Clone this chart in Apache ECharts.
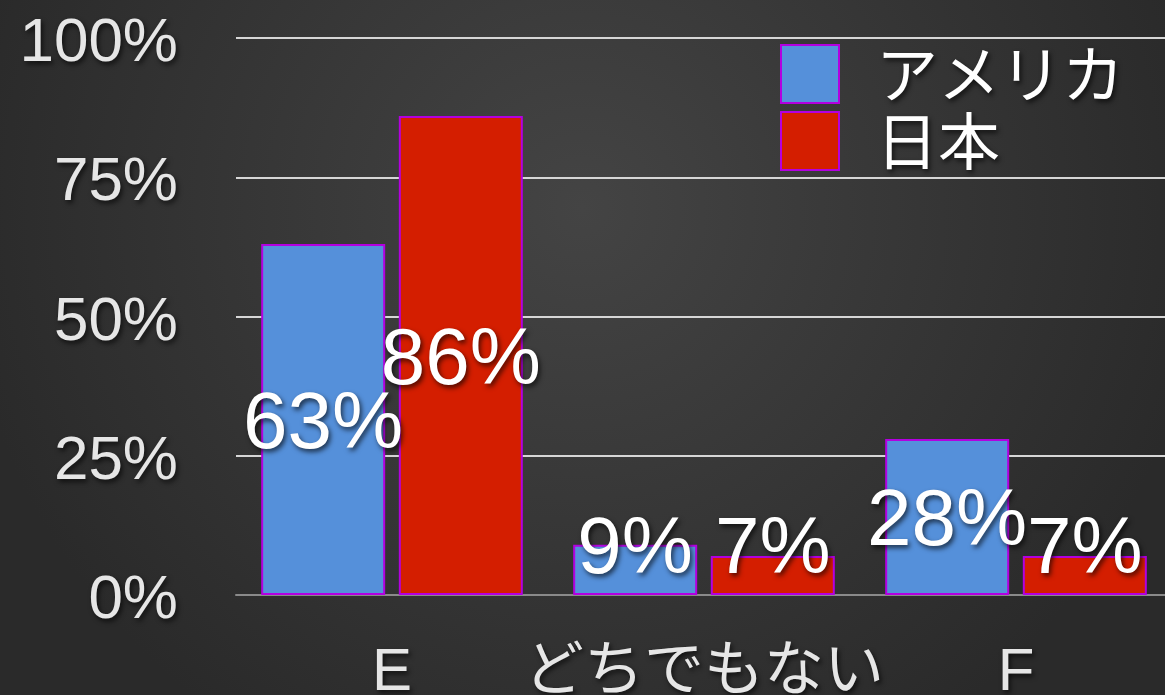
<!DOCTYPE html>
<html>
<head>
<meta charset="utf-8">
<script src="https://cdn.jsdelivr.net/npm/echarts@6/dist/echarts.min.js"></script>
<style>
  html, body { margin: 0; padding: 0; background: #333; }
  #chart { width: 1165px; height: 695px; }
</style>
</head>
<body>
<div id="chart"></div>
<script>
const categories = ['E', 'どちでもない', 'F']
const seriesNames = ['アメリカ', '日本']
const usaValues = [63, 9, 28]
const japanValues = [86, 7, 7]
const yTicks = [0, 25, 50, 75, 100]

const fontLatin = '"Liberation Sans", Arial, "Noto Sans CJK JP", sans-serif'
const shadow = {
  textShadowColor: 'rgba(0,0,0,0.65)',
  textShadowBlur: 5,
  textShadowOffsetX: 2,
  textShadowOffsetY: 3
}

// plot is 557px tall for 0..100, small bars get their label lifted
const pxPerUnit = 557 / 100
function toData (values) {
  return values.map(v => ({
    value: v,
    label: { offset: [0, 6 - Math.max(0, 50 - v * pxPerUnit / 2)] }
  }))
}

function barSeries (name, values, color) {
  return {
    name: name,
    type: 'bar',
    barWidth: 124,
    barGap: '11%',
    data: toData(values),
    itemStyle: { color: color, borderColor: '#b300e0', borderWidth: 2 },
    label: {
      show: true,
      position: 'inside',
      formatter: '{c}%',
      color: '#fff',
      fontSize: 80,
      fontFamily: fontLatin,
      ...shadow
    }
  }
}

const chart = echarts.init(document.getElementById('chart'))
chart.setOption({
  backgroundColor: {
    type: 'radial',
    x: 0.5, y: 0.3, r: 0.9,
    colorStops: [
      { offset: 0, color: '#444444' },
      { offset: 1, color: '#2a2a2a' }
    ]
  },
  animation: false,
  legend: {
    orient: 'vertical',
    left: 775,
    top: 38,
    itemWidth: 58,
    itemHeight: 58,
    itemGap: 5,
    icon: 'rect',
    data: seriesNames,
    textStyle: {
      color: '#fff',
      fontSize: 62,
      lineHeight: 58,
      fontFamily: '"Noto Sans CJK JP", sans-serif',
      padding: [0, 0, 0, 32],
      ...shadow
    }
  },
  grid: { left: 236, top: 38, right: -7, bottom: 100, outerBoundsMode: 'none' },
  xAxis: {
    type: 'category',
    data: categories,
    axisLine: { lineStyle: { color: '#8a8a8a', width: 2 } },
    axisTick: { show: false },
    axisLabel: {
      interval: 0,
      color: '#e6e6e6',
      fontSize: 60,
      margin: 48,
      fontFamily: fontLatin,
      ...shadow
    }
  },
  yAxis: {
    type: 'value',
    min: yTicks[0],
    max: yTicks[yTicks.length - 1],
    interval: 25,
    axisLine: { show: false },
    axisTick: { show: false },
    splitLine: { lineStyle: { color: '#d6d6d6', width: 2 } },
    axisLabel: {
      color: '#e6e6e6',
      fontSize: 62,
      margin: 58,
      verticalAlign: 'top',
      lineHeight: 12,
      fontFamily: fontLatin,
      formatter: '{value}%',
      ...shadow
    }
  },
  series: [
    barSeries(seriesNames[0], usaValues, '#5590da'),
    barSeries(seriesNames[1], japanValues, '#d41e00')
  ]
})
</script>
</body>
</html>
